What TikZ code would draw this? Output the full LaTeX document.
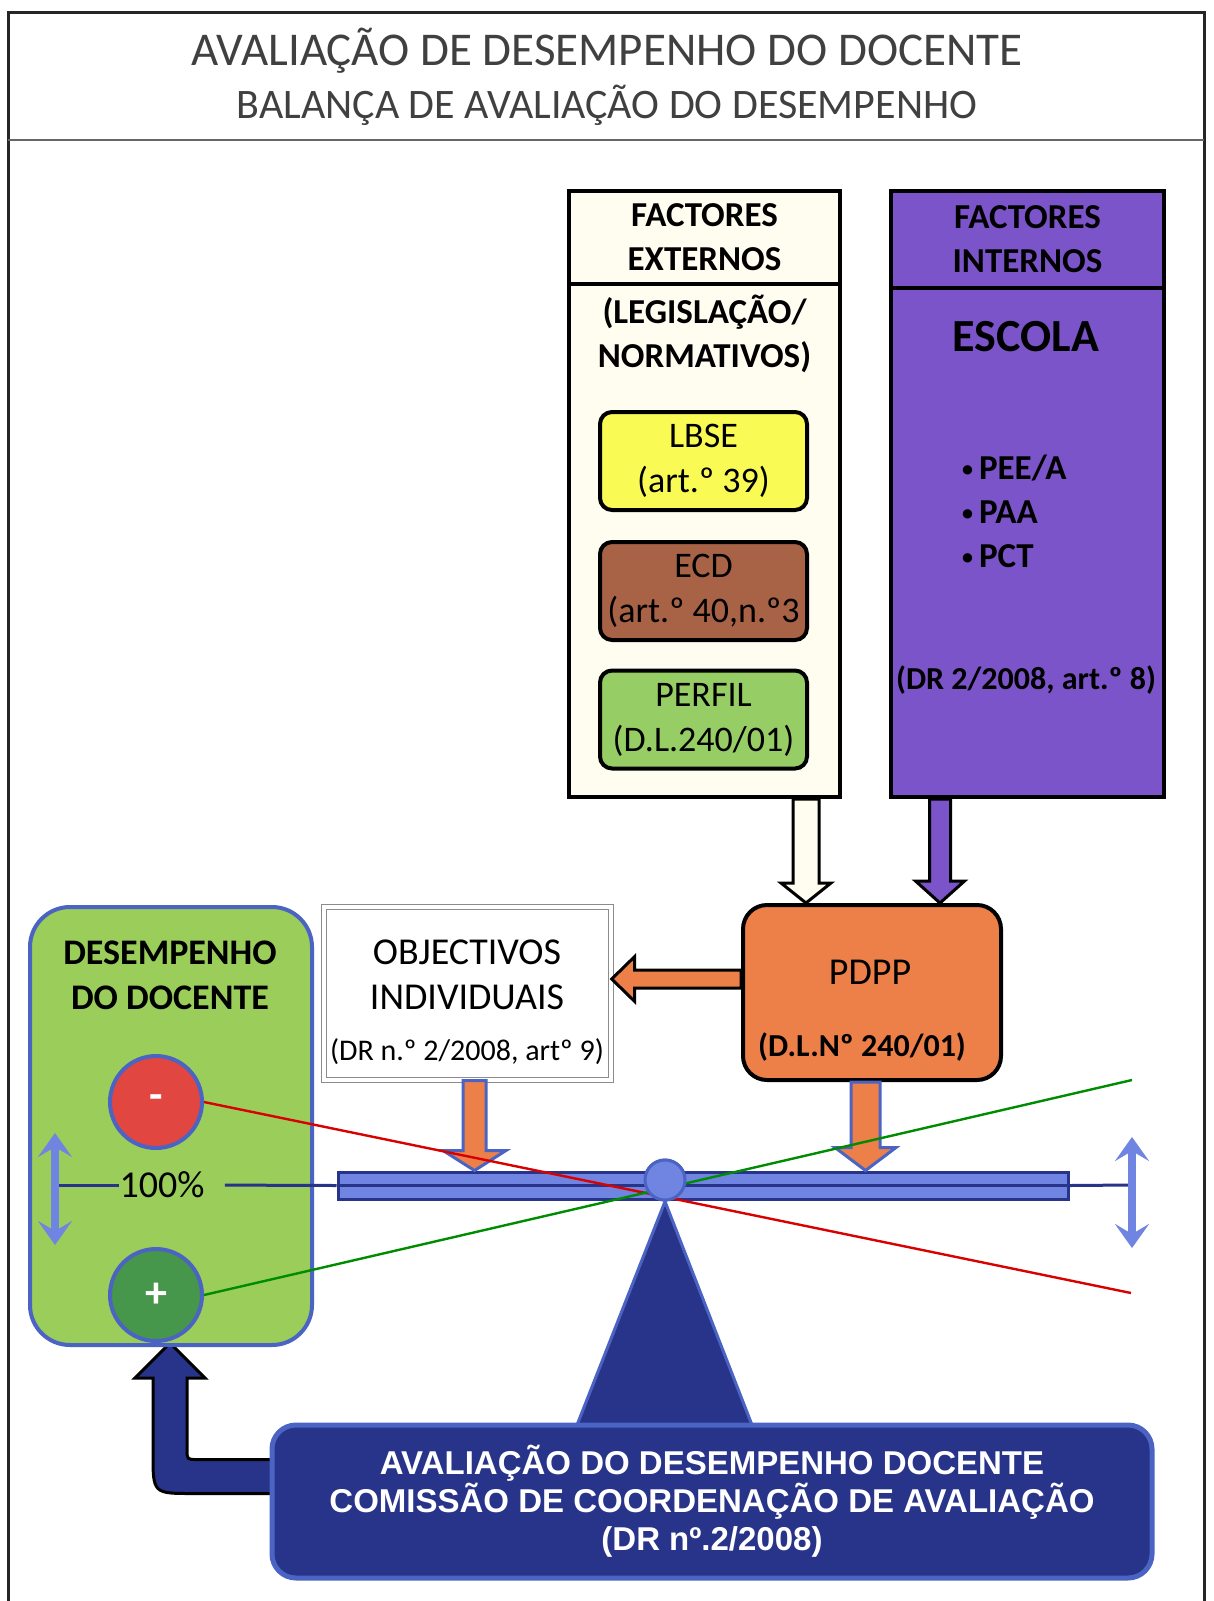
\documentclass[tikz,border=0pt]{standalone}
\usepackage{fontspec}
\setmainfont{Carlito}
\newfontfamily\arialfont{Liberation Sans}
\usetikzlibrary{calc,arrows.meta,backgrounds}
\definecolor{extfill}{RGB}{255,253,240}
\definecolor{intfill}{RGB}{122,84,200}
\definecolor{lbsefill}{RGB}{250,250,85}
\definecolor{ecdfill}{RGB}{168,98,70}
\definecolor{perfilfill}{RGB}{150,205,100}
\definecolor{pdppfill}{RGB}{236,128,72}
\definecolor{desfill}{RGB}{155,205,90}
\definecolor{lineblue}{RGB}{75,100,195}
\definecolor{lightblue}{RGB}{112,132,225}
\definecolor{navy}{RGB}{40,52,138}
\definecolor{minusred}{RGB}{225,70,65}
\definecolor{plusgreen}{RGB}{70,150,75}
\newcommand\fsz[2]{\fontsize{#1}{#2}\selectfont}
\newcommand\smbullet{{\fsz{11}{11}\raisebox{1.5pt}{•}}\hspace{3pt}}
% block arrows: style, from, tip, shaft half width, head half width, head length
\newcommand\blockdown[6]{\draw[#1] let \p1=(#2), \p2=(#3) in (\x2-#4,\y1)--(\x2+#4,\y1)--(\x2+#4,\y2+#6)--(\x2+#5,\y2+#6)--(\x2,\y2)--(\x2-#5,\y2+#6)--(\x2-#4,\y2+#6)--cycle;}
\newcommand\blockleft[6]{\draw[#1] let \p1=(#2), \p2=(#3) in (\x1,\y2+#4)--(\x2+#6,\y2+#4)--(\x2+#6,\y2+#5)--(\x2,\y2)--(\x2+#6,\y2-#5)--(\x2+#6,\y2-#4)--(\x1,\y2-#4)--cycle;}
\tikzset{
  frame/.style={draw=black!85,line width=1.5pt},
  colbox/.style={draw=black,line width=2pt,minimum width=#1,inner sep=0pt,align=center},
  lawbox/.style={draw=black,line width=2pt,rounded corners=6pt,minimum width=103.5pt,minimum height=49pt,inner sep=0pt,align=center,font=\fsz{18}{22.5}},
  headtxt/.style={font=\bfseries\fsz{17.5}{22},align=center},
  dot/.style={circle,draw=lineblue,line width=2pt,minimum size=46pt,inner sep=0pt,text=white,font=\bfseries\fsz{22}{22}},
  scaleline/.style={draw=navy,line width=1.5pt},
  updown/.style={draw=lightblue,line width=4pt,{Stealth[length=12pt,width=17pt,inset=5pt]}-{Stealth[length=12pt,width=17pt,inset=5pt]}},
  arrowline/.style={draw=black,line width=1.5pt},
}
\begin{document}
\begin{tikzpicture}[x=0.5pt,y=-0.5pt]
\useasboundingbox (0,0) rectangle (1214,1601);
\begin{pgfonlayer}{background}
\fill[white] (0,0) rectangle (1214,1601);
\end{pgfonlayer}
% frame and title
\draw[frame] (8,1601)--(8,12)--(1204,12)--(1204,1601);
\draw[draw=black!60,line width=1pt] (8,140)--(1204,140);
\node[font=\fsz{23.5}{28},text=black!75] (title1) at (607,51) {AVALIAÇÃO DE DESEMPENHO DO DOCENTE};
\node[font=\fsz{21}{25},text=black!75] (title2) at (607,105) {BALANÇA DE AVALIAÇÃO DO DESEMPENHO};
% factores externos
\node[colbox=135.5pt,minimum height=256.5pt,fill=extfill] (extbody) at (704.5,540.5) {};
\node[colbox=135.5pt,minimum height=46.5pt,fill=extfill,headtxt] (exthead) at (704.5,237.5) {FACTORES\\EXTERNOS};
\node[headtxt] (legis) at (704.5,334) {(LEGISLAÇÃO/\\NORMATIVOS)};
\node[lawbox,fill=lbsefill] (lbse) at (703.5,461) {LBSE\\(art.º 39)};
\node[lawbox,fill=ecdfill] (ecd) at (703.5,591) {ECD\\(art.º 40,n.º3};
\node[lawbox,fill=perfilfill] (perfil) at (703.5,719.5) {PERFIL\\(D.L.240/01)};
% factores internos
\node[colbox=136.5pt,minimum height=254.5pt,fill=intfill] (intbody) at (1027.5,542.5) {};
\node[colbox=136.5pt,minimum height=48.5pt,fill=intfill,headtxt] (inthead) at (1027.5,239.5) {FACTORES\\INTERNOS};
\node[font=\bfseries\fsz{23}{27}] (escola) at (1026,337) {ESCOLA};
\node[headtxt,align=left,anchor=west] (plans) at (955,511) {\smbullet PEE/A\\\smbullet PAA\\\smbullet PCT};
\node[font=\bfseries\fsz{16}{19}] (drint) at (1026,680) {(DR 2/2008, art.º 8)};
% PDPP
\node[draw=black,line width=2pt,rounded corners=12pt,fill=pdppfill,minimum width=129pt,minimum height=87.5pt] (pdpp) at (872,992.5) {};
\node[font=\fsz{19}{22}] (pdpptxt) at (870,972) {PDPP};
\node[font=\bfseries\fsz{16}{19}] (pdppref) at (862,1047) {(D.L.Nº 240/01)};
\coordinate (wx) at (806,0);
\coordinate (px) at (940,0);
\blockdown{arrowline,fill=extfill}{extbody.south -| wx}{pdpp.north -| wx}{6.5pt}{12.5pt}{10pt}
\blockdown{arrowline,fill=intfill}{intbody.south -| px}{pdpp.north -| px}{5.25pt}{12.25pt}{11pt}
% objectivos
\node[draw=black!45,double=white,double distance=2pt,line width=0.7pt,fill=white,minimum width=143.5pt,minimum height=86.5pt] (objind) at (467.5,993.5) {};
\node[font=\fsz{19}{22.5},align=center] (objtxt) at (467,975) {OBJECTIVOS\\INDIVIDUAIS};
\node[font=\fsz{15}{18}] (objref) at (467,1052) {(DR n.º 2/2008, artº 9)};
\coordinate (oy) at (0,979);
\blockleft{arrowline,fill=pdppfill}{pdpp.west |- oy}{objind.east |- oy}{4.5pt}{11.25pt}{11.5pt}
% desempenho do docente
\node[draw=lineblue,line width=2pt,rounded corners=20pt,fill=desfill,minimum width=141pt,minimum height=219pt] (desemp) at (171,1126) {};
\node[font=\bfseries\fsz{18}{22.5},align=center] (destxt) at (170,975) {DESEMPENHO\\DO DOCENTE};
\node[dot,fill=minusred] (minus) at (156,1102) {-};
\node[dot,fill=plusgreen] (plus) at (156,1295) {+};
\node[font=\fsz{19}{22},inner sep=0pt] (pct) at (162,1185) {100\%};
\coordinate (lat) at (55,1133);
\coordinate (lab) at (55,1245);
\coordinate (larc) at (55,1185);
\coordinate (rat) at (1132,1137);
\coordinate (rab) at (1132,1248);
\coordinate (rarc) at (1132,1185);
% balanca
\node[circle,fill=lightblue,draw=lineblue,line width=1.5pt,minimum size=20pt,inner sep=0pt] (pivot) at (665,1180) {};
\coordinate (tl) at (577,1425);
\coordinate (tr) at (752,1425);
\draw[fill=navy,draw=lineblue,line width=1.5pt] (pivot.south)--(tr)--(tl)--cycle;
\node[fill=lightblue,draw=navy,line width=1.5pt,minimum width=365pt,minimum height=13.5pt,inner sep=0pt] (beam) at (703,1185.5) {};
\draw[draw=navy,line width=1.5pt] (beam.west)--(beam.east);
\draw[scaleline] (larc)--(pct.west);
\draw[scaleline,shorten <=10pt] (pct.east)--(beam.west);
\draw[scaleline] (beam.east)--(rarc);
\draw[updown] (lat)--(lab);
\draw[updown] (rat)--(rab);
\coordinate (ox) at (474.5,0);
\coordinate (dx) at (865.5,0);
\blockdown{draw=lineblue,line width=1.5pt,fill=pdppfill}{objind.south -| ox}{beam.north -| ox}{5.75pt}{15.75pt}{10pt}
\blockdown{draw=lineblue,line width=1.5pt,fill=pdppfill}{pdpp.south -| dx}{beam.north -| dx}{7.25pt}{15.25pt}{11.5pt}
\coordinate (redend) at (1131,1293);
\coordinate (greenend) at (1132,1080);
\draw[draw=red!85!black,line width=1.2pt] (minus.east)--(redend);
\draw[draw=green!55!black,line width=1.2pt] (plus.east)--(greenend);
\node[circle,fill=lightblue,draw=lineblue,line width=1.5pt,minimum size=20pt,inner sep=0pt] at (pivot) {};
% comissao
\node[fill=navy,draw=lineblue,line width=2.5pt,rounded corners=12pt,minimum width=440pt,minimum height=76.5pt,text=white,align=center,font=\arialfont\bfseries\fsz{16.5}{19}] (botbox) at (712,1501.5) {AVALIAÇÃO DO DESEMPENHO DOCENTE\\COMISSÃO DE COORDENAÇÃO DE AVALIAÇÃO\\(DR nº.2/2008)};
\coordinate (navyy) at (0,1476.5);
\begin{pgfonlayer}{background}
\draw[arrowline,fill=navy] let \p1=(botbox.west |- navyy), \p2=([xshift=7pt]plus.south) in
  (\x1+5pt,\y1+8.5pt)--(\x2+13.5pt,\y1+8.5pt) .. controls (\x2+8.5pt,\y1+8.5pt) .. (\x2+8.5pt,\y1+13.5pt)
  --(\x2+8.5pt,\y2-17.5pt)--(\x2+17.5pt,\y2-17.5pt)--(\x2,\y2)--(\x2-17.5pt,\y2-17.5pt)--(\x2-8.5pt,\y2-17.5pt)
  --(\x2-8.5pt,\y1+11.5pt) .. controls (\x2-8.5pt,\y1-8.5pt) .. (\x2+11.5pt,\y1-8.5pt)--(\x1+5pt,\y1-8.5pt)--cycle;
\end{pgfonlayer}
\end{tikzpicture}
\end{document}
